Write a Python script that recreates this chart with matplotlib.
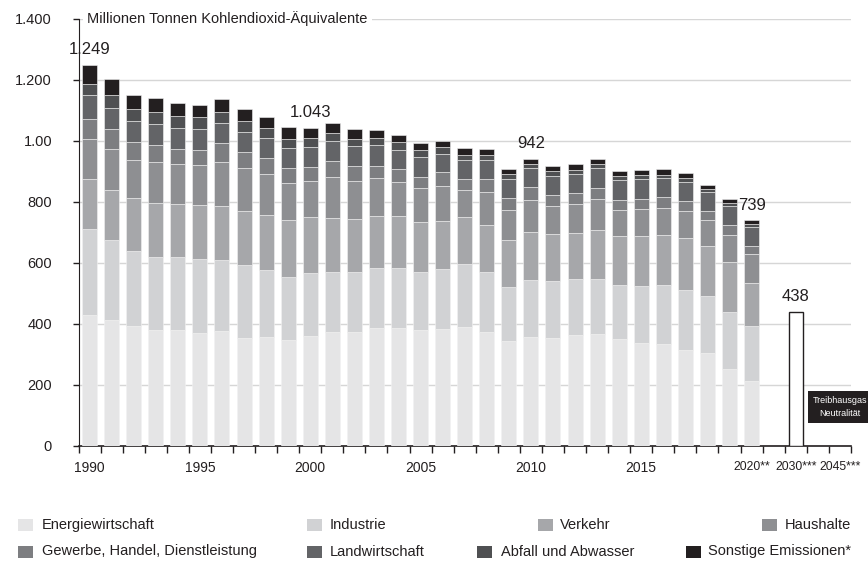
import matplotlib.pyplot as plt
import numpy as np
from matplotlib.patches import Rectangle

plt.rcParams['font.family'] = ['Liberation Sans Narrow', 'Liberation Sans', 'DejaVu Sans']

# Treibhausgas-Emissionen je Sektor, Mio. t CO2-Aeq.
years = list(range(1990, 2021))
energie = [430, 413, 392, 379, 378, 369, 376, 354, 357, 346, 361, 374, 374, 387, 387, 380,
           383, 390, 371, 344, 356, 354, 364, 367, 350, 338, 334, 315, 302, 252, 213]
industrie = [282, 260, 246, 240, 242, 243, 233, 238, 219, 207, 206, 196, 194, 196, 195, 190,
             195, 205, 199, 177, 188, 186, 181, 181, 177, 186, 192, 196, 188, 186, 179]
verkehr = [163, 166, 173, 177, 174, 177, 177, 178, 181, 186, 184, 177, 176, 170, 171, 164,
           160, 156, 154, 153, 158, 155, 154, 160, 161, 164, 164, 169, 166, 165, 143]
haushalte = [131, 134, 125, 135, 129, 131, 143, 140, 133, 122, 118, 135, 125, 124, 113, 111,
             114, 89, 108, 99, 104, 91, 95, 102, 84, 87, 89, 89, 85, 88, 92]
gewerbe = [66, 67, 59, 57, 50, 51, 64, 53, 53, 49, 45, 53, 48, 42, 43, 38,
           46, 36, 43, 38, 41, 36, 35, 35, 34, 35, 36, 32, 30, 33, 28]
landwirtschaft = [79, 68, 70, 68, 68, 67, 66, 67, 66, 66, 66, 66, 65, 66, 62, 64,
                  60, 61, 62, 64, 63, 64, 62, 66, 66, 66, 62, 65, 61, 61, 61]
abfall = [36, 41, 39, 39, 40, 39, 37, 34, 33, 31, 31, 26, 25, 23, 24, 23,
          21, 18, 18, 16, 15, 14, 13, 12, 13, 12, 11, 12, 9, 10, 11]
sonstige = [62, 55, 46, 46, 43, 41, 42, 39, 37, 38, 32, 32, 31, 27, 24, 22,
            22, 20, 19, 16, 17, 17, 19, 16, 15, 15, 20, 16, 14, 14, 12]

target_2030 = 438
labeled_years = [1990, 2000, 2010, 2020]

series_names = ["Energiewirtschaft", "Industrie", "Verkehr", "Haushalte",
                "Gewerbe, Handel, Dienstleistung", "Landwirtschaft",
                "Abfall und Abwasser", "Sonstige Emissionen*"]
colors = ["#e5e5e6", "#d1d2d4", "#a6a7aa", "#8e8f92",
          "#7d7e81", "#636467", "#4f5052", "#231f20"]

x_tick_labels = ["1990", "1995", "2000", "2005", "2010", "2015",
                 "2020**", "2030***", "2045***"]
y_ticks = [0, 200, 400, 600, 800, 1000, 1200, 1400]
y_tick_labels = ["0", "200", "400", "600", "800", "1.00", "1.200", "1.400"]

W, H = 868, 562
fig = plt.figure(figsize=(W / 100, H / 100), dpi=100)
ax = fig.add_axes([78.5 / W, 116.5 / H, 772.4 / W, 426.5 / H])

series = [energie, industrie, verkehr, haushalte, gewerbe, landwirtschaft, abfall, sonstige]
x = np.arange(len(years))
bottom = np.zeros(len(years))
for vals, col in zip(series, colors):
    ax.bar(x, vals, bottom=bottom, width=0.68, color=col, edgecolor="#f2f2f2",
           linewidth=0.4, zorder=3)
    bottom += np.array(vals)

pos_2030 = len(years) + 1
pos_2045 = len(years) + 3
ax.bar(pos_2030, target_2030, width=0.64, color="white", edgecolor="#231f20",
       linewidth=1.0, zorder=3)

# value labels
for yr in labeled_years:
    i = years.index(yr)
    ax.text(i, bottom[i] + 50, "{:,}".format(int(bottom[i])).replace(",", "."),
            ha="center", va="center", fontsize=12, color="#231f20", zorder=5)
ax.text(pos_2030, target_2030 + 51, str(target_2030), ha="center", va="center",
        fontsize=12, color="#231f20", zorder=5)

ax.text(pos_2045, 127, "Treibhausgas\nNeutralität", ha="center", va="center",
        fontsize=6.5, color="white", linespacing=1.5, zorder=6,
        bbox=dict(boxstyle="square,pad=0.55", facecolor="#231f20", edgecolor="none"))

ax.text(0.011, 1400, "Millionen Tonnen Kohlendioxid-Äquivalente",
        transform=ax.get_yaxis_transform(), ha="left", va="center", fontsize=10.5,
        color="#231f20", zorder=6,
        bbox=dict(boxstyle="square,pad=0.3", facecolor="white", edgecolor="none"))

ax.set_xlim(-0.5, pos_2045 + 0.5)
ax.set_ylim(0, 1400)

ax.set_yticks(y_ticks, y_tick_labels)
ax.yaxis.grid(True, color="#d6d6d6", linewidth=1.0, zorder=0)
ax.set_axisbelow(True)

# slot boundaries as major ticks, year labels as minor ticks
ax.set_xticks(np.arange(-0.5, pos_2045 + 1, 1.0))
ax.set_xticklabels([])
label_pos = [years.index(y) for y in range(1990, 2021, 5)] + [pos_2030, pos_2045]
ax.set_xticks(label_pos, minor=True)
ax.set_xticklabels(x_tick_labels, minor=True)
ax.tick_params(axis="x", which="major", direction="out", length=5, width=1, color="#231f20")
ax.tick_params(axis="x", which="minor", length=0, pad=11, labelsize=10, labelcolor="#231f20")
ax.tick_params(axis="y", direction="out", length=4, width=1, color="#231f20",
               pad=15, labelsize=10.5, labelcolor="#231f20")
for lbl in ax.get_xticklabels(minor=True)[-3:]:
    lbl.set_fontsize(8.8)

for s in ["top", "right"]:
    ax.spines[s].set_visible(False)
ax.spines["left"].set_color("#231f20")
ax.spines["bottom"].set_color("#231f20")
ax.spines["bottom"].set_linewidth(1.2)

# legend, two rows of four entries
legend_pos = [(18, 41.7, 525), (307, 330, 525), (538, 560, 525), (762, 784.7, 525),
              (18, 41.7, 551.5), (307, 330, 551.5), (477, 500.7, 551.5), (686, 708, 551.5)]
for (sx, tx, yc), name, col in zip(legend_pos, series_names, colors):
    fig.add_artist(Rectangle((sx / W, 1 - (yc + 6) / H), 15 / W, 12 / H,
                             transform=fig.transFigure, facecolor=col, edgecolor="none"))
    fig.text(tx / W, 1 - yc / H, name, ha="left", va="center", fontsize=10.5,
             color="#231f20")

plt.savefig("out.png", dpi=100)
plt.close()
